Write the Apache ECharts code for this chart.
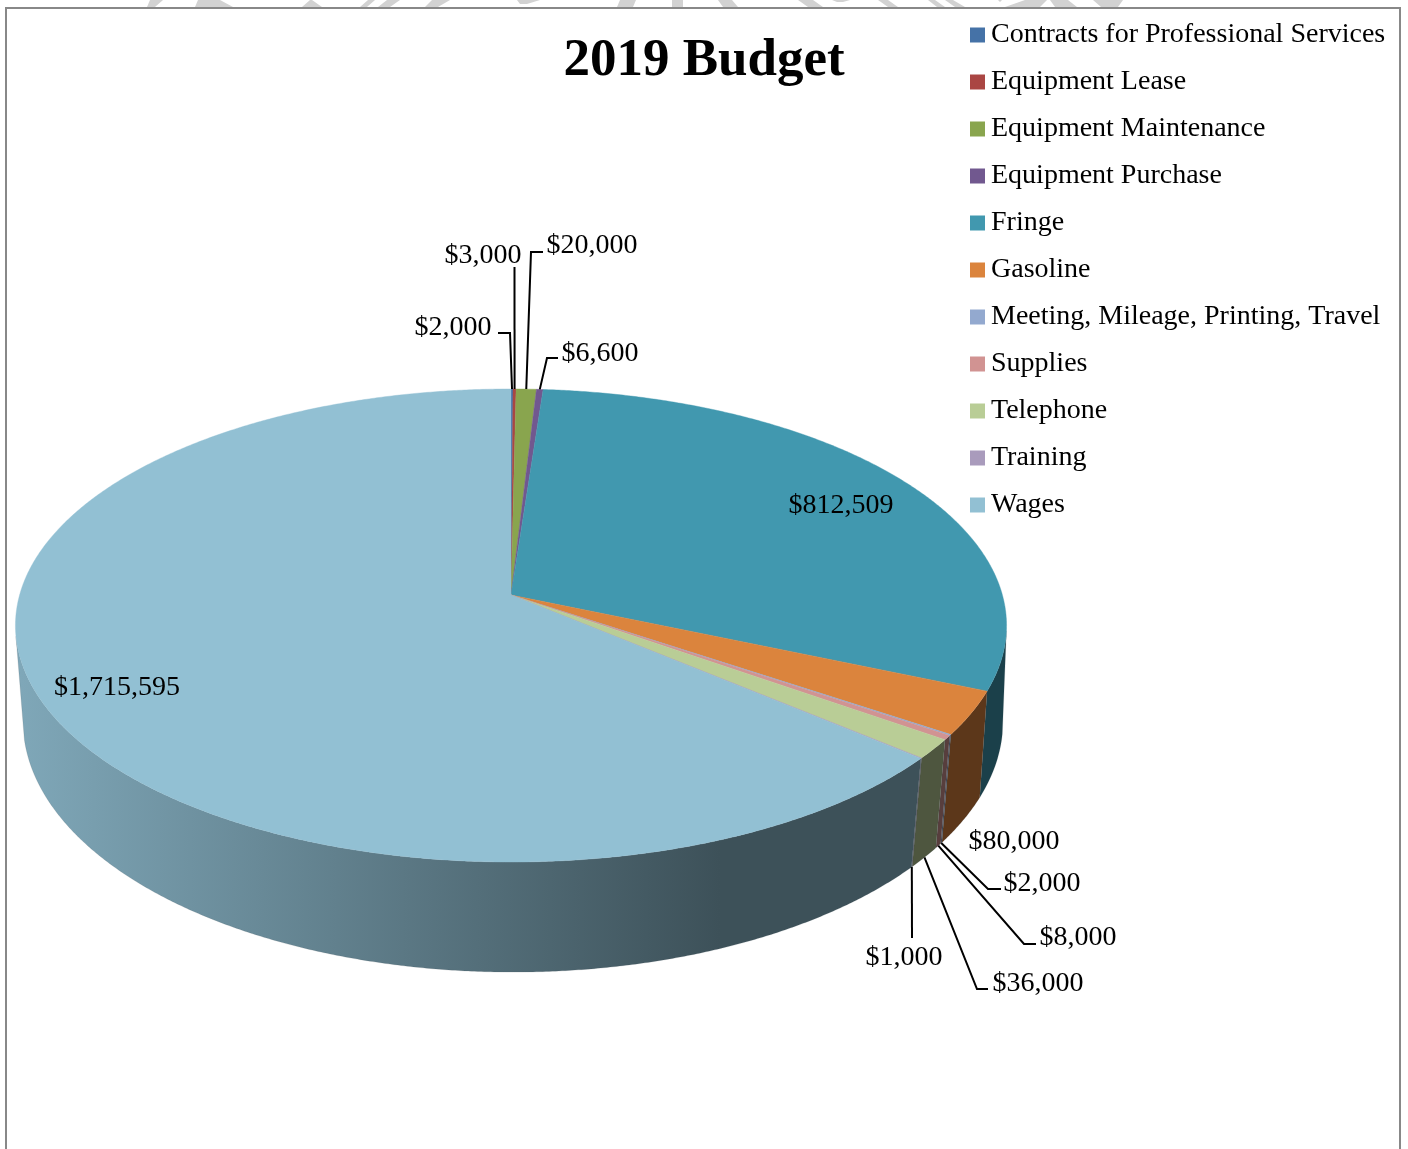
<!DOCTYPE html>
<html>
<head>
<meta charset="utf-8">
<title>2019 Budget</title>
<style>
  html, body { margin: 0; padding: 0; background: #fff; overflow: hidden; }
  #chart { width: 1408px; height: 1149px; }
</style>
<script src="https://cdn.jsdelivr.net/npm/echarts@6/dist/echarts.min.js"></script>
</head>
<body>
<div id="chart"></div>
<script>
// Budget lines, clockwise from twelve o'clock
const categories = [
  'Contracts for Professional Services', 'Equipment Lease', 'Equipment Maintenance',
  'Equipment Purchase', 'Fringe', 'Gasoline', 'Meeting, Mileage, Printing, Travel',
  'Supplies', 'Telephone', 'Training', 'Wages'
];
const amounts = [2000, 3000, 20000, 6600, 812509, 80000, 2000, 8000, 36000, 1000, 1715595];
const colors = ['#4572A7', '#AA4643', '#89A54E', '#71588F', '#4198AF', '#DB843D',
  '#93A9CF', '#D19392', '#B9CD96', '#A99BBC', '#92C0D3'];

// Label centres, one per category
const labelCentres = [[453, 328], [483, 256], [592, 246], [600, 354], [841, 506], [1014, 842],
  [1042, 884], [1078, 938], [1038, 984], [904, 958], [117, 688]];
// Leader elbows from the label towards the slice; the rim names the ellipse it lands on
const leaderElbows = [
  [[498, 333], [510, 333]], [[514.5, 267]], [[543, 252], [531, 252]], [[558, 358], [547, 358]],
  null, null,
  [[1001, 889], [988, 889]], [[1036, 944], [1024, 944]], [[988, 989], [977, 989]], [[912, 938]],
  null
];
const leaderRim = ['top', 'top', 'top', 'top', null, null, 'base', 'base', 'base', 'base', null];

// Perspective projection of the unit disc onto the page
const topFace = { cx: 511, y0: 595, a: 491.4, b: 232.6, p: 0.129 };
const baseFace = { cx: 513, y0: 696, a: 487.5, b: 248.5, p: 0.10 };
function project(face, angle) {
  const u = Math.sin(angle), v = -Math.cos(angle), w = 1 - face.p * v;
  return [face.cx + face.a * u / w, face.y0 + face.b * v / w];
}

const total = amounts.reduce((s, v) => s + v, 0);
const startOf = amounts.map((_, i) => amounts.slice(0, i).reduce((s, v) => s + v, 0));
const toAngle = v => v / total * Math.PI * 2;

function shade(hex, k) {
  const n = parseInt(hex.slice(1), 16);
  const c = [n >> 16, (n >> 8) & 255, n & 255].map(x => Math.round(x * k));
  return 'rgb(' + c.join(',') + ')';
}

// A wall sample faces the viewer when the rim runs leftwards over the drop to the base
function facesViewer(angle) {
  const d = 0.002;
  const p0 = project(topFace, angle), p1 = project(topFace, angle + d), q = project(baseFace, angle);
  return (p1[0] - p0[0]) * (q[1] - p0[1]) - (p1[1] - p0[1]) * (q[0] - p0[0]) < 0;
}
function sampleAngles(a0, a1) {
  const n = Math.max(2, Math.ceil((a1 - a0) / 0.006));
  const out = [];
  for (let i = 0; i <= n; i++) out.push(a0 + (a1 - a0) * i / n);
  return out;
}
const money = v => '$' + v.toLocaleString('en-US');

function renderSlice(index) {
  return function (params, api) {
    const value = api.value(0);
    const a0 = toAngle(startOf[index]), a1 = toAngle(startOf[index] + value);
    const angles = sampleAngles(a0, a1);
    const children = [];

    // Outer wall, front-facing part only
    const front = angles.filter(facesViewer);
    if (front.length > 1) {
      const pts = front.map(a => project(topFace, a))
        .concat(front.slice().reverse().map(a => project(baseFace, a)));
      const fill = index === 10
        ? { type: 'linear', global: true, x: 20, y: 0, x2: 720, y2: 0, colorStops: [
            { offset: 0, color: shade(colors[index], 0.87) },
            { offset: 1, color: shade(colors[index], 0.42) }] }
        : shade(colors[index], 0.42);
      children.push({ type: 'polygon', z2: 1, shape: { points: pts },
        style: { fill: fill, stroke: 'rgba(70,80,90,0.3)', lineWidth: 0.5 } });
    }

    // Top face
    const facePts = [[topFace.cx, topFace.y0]].concat(angles.map(a => project(topFace, a)));
    children.push({ type: 'polygon', z2: 10, shape: { points: facePts },
      style: { fill: colors[index], stroke: colors[index], lineWidth: 0.4 } });

    // Leader line ending at the slice's mid-angle on its rim
    if (leaderRim[index]) {
      const mid = (a0 + a1) / 2;
      const end = project(leaderRim[index] === 'top' ? topFace : baseFace, mid);
      children.push({ type: 'polyline', z2: 20,
        shape: { points: leaderElbows[index].concat([end]) },
        style: { fill: null, stroke: '#000', lineWidth: 2 } });
    }

    // Value label
    children.push({ type: 'text', z2: 30, style: {
      x: labelCentres[index][0], y: labelCentres[index][1], text: money(value),
      align: 'center', verticalAlign: 'middle', fill: '#000',
      font: '28px "Liberation Serif", serif' } });

    return { type: 'group', children: children };
  };
}

// Fragments of the page stamp showing above the chart frame
const stampBits = [
  [[150, 0], [163, 0], [155, 7], [147, 7]], [[198, 0], [220, 0], [233, 7], [195, 7]],
  [[310, 0], [312, 0], [322, 7], [302, 7]], [[368, 0], [375, 0], [367, 7], [360, 7]],
  [[387, 0], [400, 0], [390, 7], [378, 7]], [[432, 0], [450, 0], [438, 7], [425, 7]],
  [[517, 0], [540, 0], [527, 4], [520, 4]], [[620, 0], [636, 0], [633, 7], [617, 7]],
  [[672, 0], [683, 0], [683, 7], [672, 7]], [[718, 0], [732, 0], [738, 7], [723, 7]],
  [[798, 0], [813, 0], [823, 7], [808, 7]], [[832, 0], [850, 0], [843, 2], [837, 2]],
  [[878, 0], [888, 0], [898, 7], [888, 7]], [[928, 0], [935, 0], [945, 7], [937, 7]],
  [[945, 0], [953, 0], [965, 7], [955, 7]], [[998, 0], [1002, 0], [1000, 2]],
  [[1025, 0], [1047, 0], [1040, 7], [1005, 7]], [[1050, 0], [1068, 0], [1077, 7], [1055, 7]],
  [[1093, 0], [1123, 0], [1118, 7], [1101, 7]]
];

const chart = echarts.init(document.getElementById('chart'), null, { renderer: 'canvas' });
chart.setOption({
  animation: false,
  backgroundColor: '#fff',
  title: {
    text: '2019 Budget', left: 'center', top: 30,
    textStyle: { fontFamily: '"Liberation Serif", serif', fontWeight: 'bold', fontSize: 53, color: '#000' }
  },
  legend: {
    orient: 'vertical', left: 970, top: 21, padding: 0, itemWidth: 15, itemHeight: 15, itemGap: 19,
    icon: 'rect', selectedMode: false, data: categories,
    textStyle: { fontFamily: '"Liberation Serif", serif', fontSize: 28, color: '#000', lineHeight: 32, height: 28, padding: [0, 0, 0, 1] }
  },
  graphic: {
    elements: stampBits.map(points => ({
      type: 'polygon', silent: true, z: -2, shape: { points: points }, style: { fill: '#d2d2d2' }
    })).concat([{
      type: 'rect', silent: true, z: -1,
      shape: { x: 6, y: 8, width: 1394, height: 1160 },
      style: { fill: '#fff', stroke: '#888', lineWidth: 2 }
    }])
  },
  series: categories.map((name, i) => ({
    type: 'custom', name: name, coordinateSystem: 'none',
    itemStyle: { color: colors[i] }, silent: true,
    data: [[amounts[i]]], renderItem: renderSlice(i)
  }))
});
</script>
</body>
</html>
